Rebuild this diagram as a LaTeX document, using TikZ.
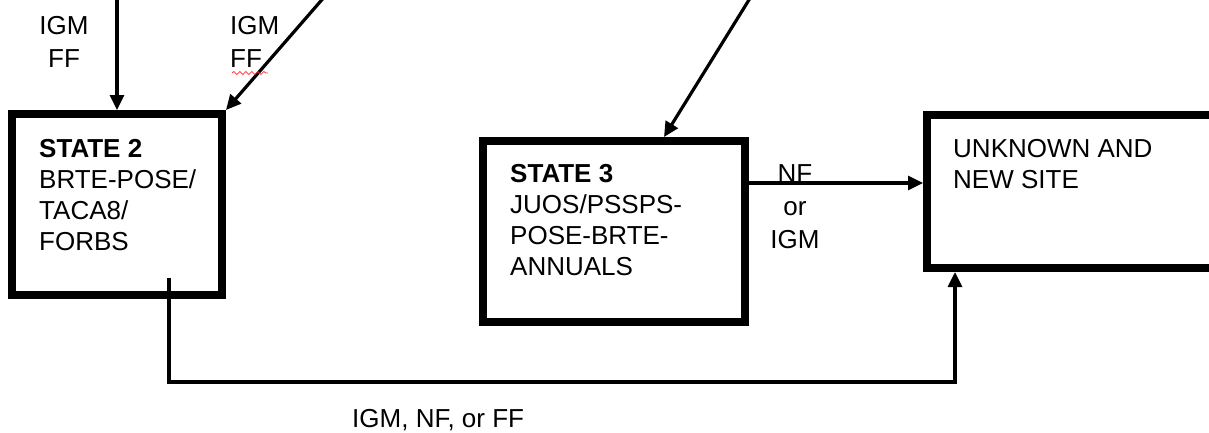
\documentclass[tikz,border=0pt]{standalone}
\usepackage{fontspec}
\setmainfont{Liberation Sans}
\usetikzlibrary{arrows.meta,decorations.pathmorphing}
\begin{document}
\begin{tikzpicture}[x=1pt,y=-1pt,
  statebox/.style={draw=black,line width=8pt,inner sep=0pt,outer sep=4pt,rectangle},
  txt/.style={inner sep=0pt,anchor=north west,align=left,font=\fontsize{26}{31}\selectfont},
  lbl/.style={inner sep=0pt,align=center,font=\fontsize{26}{33}\selectfont},
  conn/.style={draw=black,line width=3.2pt,-{Triangle[length=15pt,width=14pt]}},
  plain/.style={draw=black,line width=3.2pt}]
\clip (0,0) rectangle (1209,432);
\fill[white] (0,0) rectangle (1209,432);
% boxes
\node[statebox,minimum width=210pt,minimum height=181pt] (s2) at (117,204.5) {};
\node[statebox,minimum width=262pt,minimum height=181pt] (s3) at (614,231.5) {};
\node[statebox,minimum width=320pt,minimum height=153pt] (un) at (1087,191.5) {};
% texts
\node[txt] (t2) at (39,139) {\textbf{STATE 2}\\BRTE-POSE/\\TACA8/\\FORBS};
\node[txt] (t3) at (510,164) {\textbf{STATE 3}\\JUOS/PSSPS-\\POSE-BRTE-\\ANNUALS};
\node[txt] (tu) at (953,139) {UNKNOWN AND\\NEW SITE};
% incoming arrows
\coordinate (in1) at (117,-5);
\coordinate (in2) at (326,-5);
\coordinate (in3) at (752,-5);
\draw[conn] (in1) -- (in1 |- s2.north);
\draw[conn] (in2) -- (s2.north east);
\draw[conn] (in3) -- ([xshift=185]s3.north west);
% labels
\node[lbl,anchor=north] (l1) at (64,16) {IGM\\FF};
\node[lbl,anchor=north west,align=left] (l2) at (230,16) {IGM\\FF};
\draw[red!80,line width=0.8pt,decorate,decoration={snake,amplitude=1.5pt,segment length=6pt}] (232,73) -- (268,73);
% state 3 to unknown
\draw[conn] ([yshift=48.5]s3.east) -- ([yshift=48.5]s3.east -| un.west);
\node[lbl,anchor=north] (l3) at (795,164) {NF\\or\\IGM};
% state 2 to unknown
\coordinate (s2o) at (169,278);
\coordinate (bend) at (955,382);
\draw[conn] (s2o) -- (s2o |- bend) -- (bend) -- (bend |- un.south);
\node[lbl,anchor=north west] (l4) at (352,409) {IGM, NF, or FF};
\end{tikzpicture}
\end{document}
